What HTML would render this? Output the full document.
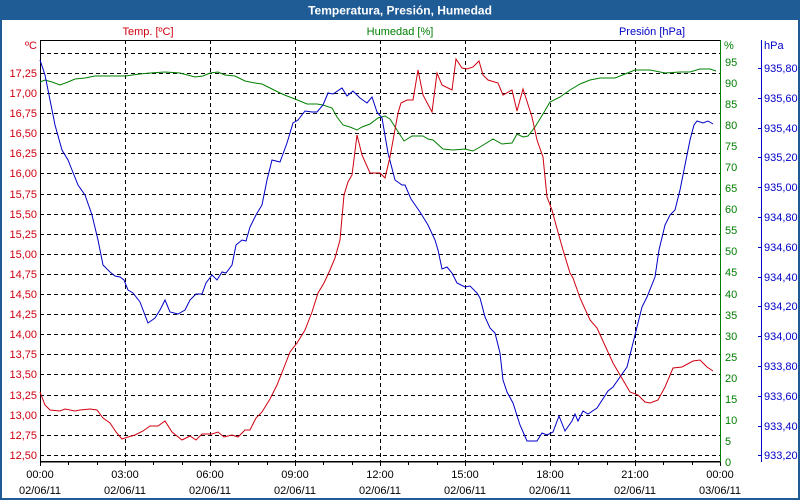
<!DOCTYPE html>
<html><head><meta charset="utf-8"><style>
html,body{margin:0;padding:0;background:#fff;}
svg{display:block;font-family:"Liberation Sans",Tahoma,sans-serif;}
</style></head><body>
<svg width="800" height="500" viewBox="0 0 800 500" xmlns="http://www.w3.org/2000/svg">
<rect x="0" y="0" width="800" height="500" fill="#fff"/>
<rect x="1" y="1" width="798" height="498" fill="none" stroke="#1f5c96" stroke-width="2"/>
<rect x="0" y="0" width="800" height="20" fill="#1f5c96"/>
<text x="400" y="14.5" fill="#fff" font-size="12" font-weight="bold" text-anchor="middle">Temperatura, Presión, Humedad</text>
<text x="148" y="35" fill="#d00010" font-size="11" text-anchor="middle">Temp. [ºC]</text>
<text x="400" y="35" fill="#008000" font-size="11" text-anchor="middle">Humedad [%]</text>
<text x="652" y="35" fill="#0000c8" font-size="11" text-anchor="middle">Presión [hPa]</text>
<!-- grid -->
<g stroke="#000" stroke-width="1" stroke-dasharray="4,3" fill="none">
<path d="M125.5 40V461M210.5 40V461M295.5 40V461M380.5 40V461M465.5 40V461M550.5 40V461M635.5 40V461"/>
<path d="M40 53.5H720M40 73.5H720M40 93.5H720M40 113.5H720M40 133.5H720M40 153.5H720M40 173.5H720M40 194.5H720M40 214.5H720M40 234.5H720M40 254.5H720M40 274.5H720M40 294.5H720M40 314.5H720M40 334.5H720M40 354.5H720M40 374.5H720M40 395.5H720M40 415.5H720M40 435.5H720M40 455.5H720"/>
</g>
<!-- axes -->
<path d="M40 40.5H720" stroke="#000"/>
<path d="M40.5 40V462H720" stroke="#000" fill="none"/>
<path d="M40 461.5H720M40.5 461V466M68.5 461V465M97.5 461V465M125.5 461V466M153.5 461V465M182.5 461V465M210.5 461V466M238.5 461V465M267.5 461V465M295.5 461V466M323.5 461V465M352.5 461V465M380.5 461V466M408.5 461V465M437.5 461V465M465.5 461V466M493.5 461V465M522.5 461V465M550.5 461V466M578.5 461V465M607.5 461V465M635.5 461V466M663.5 461V465M692.5 461V465M720.5 461V466" stroke="#000"/>
<path d="M720.5 40V462" stroke="#008000"/>
<path d="M761.5 40V462" stroke="#0000c8"/>
<g stroke="#0000c8"><path d="M758 68.5h3M758 98.5h3M758 128.5h3M758 157.5h3M758 187.5h3M758 217.5h3M758 247.5h3M758 277.5h3M758 306.5h3M758 336.5h3M758 366.5h3M758 396.5h3M758 426.5h3M758 455.5h3"/></g>
<!-- left labels -->
<g fill="#d00010" font-size="11" text-anchor="end">
<text x="37" y="49">ºC</text>
<text x="37" y="77">17,25</text><text x="37" y="97">17,00</text><text x="37" y="117">16,75</text><text x="37" y="137">16,50</text><text x="37" y="157">16,25</text><text x="37" y="177">16,00</text><text x="37" y="198">15,75</text><text x="37" y="218">15,50</text><text x="37" y="238">15,25</text><text x="37" y="258">15,00</text><text x="37" y="278">14,75</text><text x="37" y="298">14,50</text><text x="37" y="318">14,25</text><text x="37" y="338">14,00</text><text x="37" y="358">13,75</text><text x="37" y="378">13,50</text><text x="37" y="399">13,25</text><text x="37" y="419">13,00</text><text x="37" y="439">12,75</text><text x="37" y="459">12,50</text>
</g>
<g fill="#008000" font-size="11">
<text x="724" y="49">%</text>
<text x="725" y="66">95</text><text x="725" y="87">90</text><text x="725" y="108">85</text><text x="725" y="129">80</text><text x="725" y="150">75</text><text x="725" y="171">70</text><text x="725" y="192">65</text><text x="725" y="213">60</text><text x="725" y="234">55</text><text x="725" y="255">50</text><text x="725" y="276">45</text><text x="725" y="298">40</text><text x="725" y="319">35</text><text x="725" y="340">30</text><text x="725" y="361">25</text><text x="725" y="382">20</text><text x="725" y="403">15</text><text x="725" y="424">10</text><text x="725" y="445">5</text><text x="725" y="466">0</text>
</g>
<g fill="#0000c8" font-size="11">
<text x="764" y="49">hPa</text>
<text x="764" y="72">935,80</text><text x="764" y="102">935,60</text><text x="764" y="132">935,40</text><text x="764" y="161">935,20</text><text x="764" y="191">935,00</text><text x="764" y="221">934,80</text><text x="764" y="251">934,60</text><text x="764" y="281">934,40</text><text x="764" y="310">934,20</text><text x="764" y="340">934,00</text><text x="764" y="370">933,80</text><text x="764" y="400">933,60</text><text x="764" y="430">933,40</text><text x="764" y="459">933,20</text>
</g>
<g fill="#000" font-size="11" text-anchor="middle">
<text x="40" y="478">00:00</text><text x="40" y="494">02/06/11</text>
<text x="125" y="478">03:00</text><text x="125" y="494">02/06/11</text>
<text x="210" y="478">06:00</text><text x="210" y="494">02/06/11</text>
<text x="295" y="478">09:00</text><text x="295" y="494">02/06/11</text>
<text x="380" y="478">12:00</text><text x="380" y="494">02/06/11</text>
<text x="465" y="478">15:00</text><text x="465" y="494">02/06/11</text>
<text x="550" y="478">18:00</text><text x="550" y="494">02/06/11</text>
<text x="635" y="478">21:00</text><text x="635" y="494">02/06/11</text>
<text x="720" y="478">00:00</text><text x="720" y="494">03/06/11</text>
</g>
<!-- green humidity -->
<polyline fill="none" stroke="#008000" stroke-width="1" points="40,82 45,80 52,82 60,85 68,82 75,79 85,78 95,76 110,76 125,76 140,74 150,73 165,72 180,73 195,77 203,76 210,73 218,72 225,75 235,76 245,81 255,83 262,84 270,88 280,93 287,96 295,99 307,104 317,104 323,105 332,108 337,117 343,125 350,127 357,130 362,127 370,124 378,118 385,116 390,119 397,130 404,141 412,136 423,136 428,139 433,140 443,149 453,150 465,149 473,151 480,147 493,139 502,144 512,143 517,134 523,137 528,136 535,127 543,114 550,102 560,97 570,90 580,84 590,80 600,78 615,78 625,74 635,70 650,70 665,73 680,72 690,72 700,69 710,69 716,71"/>
<!-- blue pressure -->
<polyline fill="none" stroke="#0000c8" stroke-width="1" points="40,60 45,75 50,100 55,125 62,150 68,160 72,170 78,185 85,195 92,215 98,240 103,265 110,272 115,276 120,277 124,280 128,290 133,293 140,302 148,323 155,318 160,310 165,300 170,312 178,314 185,310 190,300 196,294 202,294 206,283 212,275 217,280 222,272 226,273 232,265 236,245 242,240 246,241 250,227 256,215 262,205 267,180 272,160 280,162 287,143 293,123 298,120 305,111 312,112 317,112 323,105 328,93 333,94 342,88 347,96 353,91 360,98 367,103 372,97 377,112 382,118 388,153 395,180 402,185 405,185 411,199 420,212 428,225 435,240 438,250 442,269 447,267 452,273 457,283 465,287 470,286 477,293 480,298 485,317 490,328 495,333 500,353 503,380 507,392 513,403 520,425 527,441 537,441 542,433 547,435 553,432 559,416 565,431 572,421 575,414 578,421 583,411 588,414 597,408 608,391 613,387 627,367 635,335 642,307 647,297 655,277 659,250 665,225 670,215 675,210 680,190 685,165 690,140 694,125 697,121 703,123 708,121 713,124"/>
<!-- red temperature -->
<polyline fill="none" stroke="#d00010" stroke-width="1" points="40,392 45,405 50,410 60,411 65,409 75,411 80,410 90,409 97,410 103,418 110,423 116,432 122,439 128,437 135,435 143,431 150,426 158,426 165,421 172,432 182,440 190,436 196,440 202,434 212,434 218,432 224,437 232,435 238,437 245,430 250,430 256,418 262,412 270,399 277,385 283,370 290,352 297,343 305,330 312,312 318,293 324,283 330,270 335,258 340,240 344,195 348,182 352,175 357,135 362,155 370,173 380,173 385,178 390,157 398,113 401,103 407,100 413,100 418,70 423,95 432,112 437,73 442,85 452,90 456,59 462,68 467,69 473,67 479,61 483,75 488,80 498,83 503,95 512,90 517,111 523,89 532,117 537,140 543,157 547,197 552,210 556,225 563,250 570,273 573,278 580,298 590,320 597,328 613,363 620,375 630,392 638,395 645,402 650,403 658,400 665,387 673,368 682,367 693,361 700,360 707,367 713,371"/>
</svg>
</body></html>
